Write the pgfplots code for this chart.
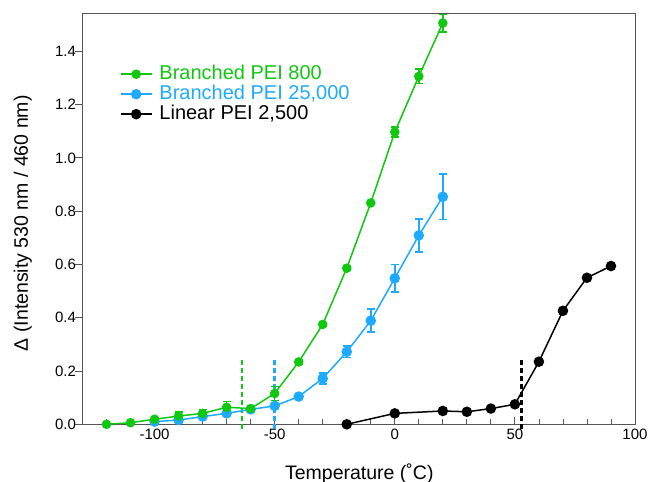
\documentclass[border=0pt]{standalone}
\usepackage{fontspec}
\setmainfont{Liberation Sans}
\usepackage{pgfplots}
\pgfplotsset{compat=1.18}
\definecolor{pgreen}{HTML}{10C810}
\definecolor{pblue}{HTML}{1EAAFF}
\definecolor{axgray}{HTML}{555555}

\begin{document}
\begin{tikzpicture}
\path[use as bounding box] (-82.5bp,-57.7bp) rectangle (568.5bp,424.3bp);
\begin{axis}[
    scale only axis, width=552.5bp, height=410.3bp,
    xmin=-130, xmax=100, ymin=0, ymax=1.54,
    clip=false,
    axis line style={axgray, line width=1bp},
    xtick={-100,-50,...,100},
    minor xtick={-120,-110,...,90},
    ytick={0,0.2,...,1.41},
    xtick pos=bottom, ytick pos=left,
    tick align=inside,
    major tick length=7bp, minor tick length=5bp,
    tick style={axgray, line width=0.8bp},
    y tick style={xshift=-7bp},
    /pgf/number format/assume math mode=true,
    tick label style={font=\fontsize{15bp}{18bp}\selectfont, black},
    yticklabel style={xshift=-3bp, /pgf/number format/fixed,
        /pgf/number format/fixed zerofill, /pgf/number format/precision=1},
    xticklabel style={yshift=-1bp},
    xlabel={Temperature (˚C)},
    ylabel={Δ (Intensity 530 nm / 460 nm)},
    xlabel style={font=\fontsize{19.5bp}{22bp}\selectfont, at={(axis description cs:0.501,-0.12)}, anchor=center},
    ylabel style={font=\fontsize{19.5bp}{22bp}\selectfont, at={(axis description cs:-0.108,0.49)}, anchor=center},
    reverse legend,
    legend style={draw=none, fill=none, at={(axis description cs:0.062,0.883)}, anchor=north west,
        font=\fontsize{20bp}{20bp}\selectfont,
        nodes={inner xsep=0bp, inner ysep=0bp, text height=15bp, text depth=5bp},
        legend cell align=left},
    legend image code/.code={%
        \draw[mark repeat=2, mark phase=2, #1] plot coordinates {(0bp,0bp) (15.5bp,0bp) (31bp,0bp)};
        \path (38bp,0bp);},
    error bars/error bar style={line width=1.5bp},
    error bars/error mark options={rotate=90, mark size=4bp, line width=1.5bp},
]
% vertical markers
\addplot[pgreen, line width=2.5bp, dash pattern=on 5bp off 3bp, forget plot] coordinates {(-63.6,-0.018) (-63.6,0.251)};
\addplot[pblue, line width=2.5bp, dash pattern=on 5bp off 3bp, forget plot] coordinates {(-50,-0.018) (-50,0.251)};
\addplot[black, line width=2.5bp, dash pattern=on 5bp off 3bp, forget plot] coordinates {(52.8,-0.018) (52.8,0.251)};

% Linear PEI 2,500
\addplot[black, line width=1.5bp, mark=*, mark size=4.5bp] table {
x    y
-20  0.000
0    0.041
20   0.050
30   0.047
40   0.059
50   0.075
60   0.235
70   0.426
80   0.550
90   0.594
};
\addlegendentry{\textcolor{black}{Linear PEI 2,500}}

% Branched PEI 25,000
\addplot[pblue, line width=1.5bp, mark=*, mark size=4.5bp,
    error bars/.cd, y dir=both, y explicit] table[y error=e] {
x    y      e
-100 0.010  0.003
-90  0.016  0.005
-80  0.029  0.008
-70  0.041  0.008
-60  0.056  0.005
-50  0.069  0.010
-40  0.104  0.008
-30  0.172  0.020
-20  0.272  0.022
-10  0.389  0.043
0    0.548  0.051
10   0.709  0.062
20   0.854  0.085
};
\addlegendentry{\textcolor{pblue}{Branched PEI 25,000}}

% Branched PEI 800
\addplot[pgreen, line width=1.5bp, mark=*, mark size=4bp,
    error bars/.cd, y dir=both, y explicit] table[y error=e] {
x    y      e
-120 0.000  0.000
-110 0.006  0.000
-100 0.019  0.005
-90  0.031  0.016
-80  0.041  0.015
-70  0.064  0.021
-60  0.059  0.006
-50  0.116  0.026
-40  0.234  0.010
-30  0.375  0.008
-20  0.586  0.008
-10  0.831  0.006
0    1.097  0.019
10   1.306  0.027
20   1.506  0.033
};
\addlegendentry{\textcolor{pgreen}{Branched PEI 800}}
\end{axis}
\end{tikzpicture}
\end{document}
